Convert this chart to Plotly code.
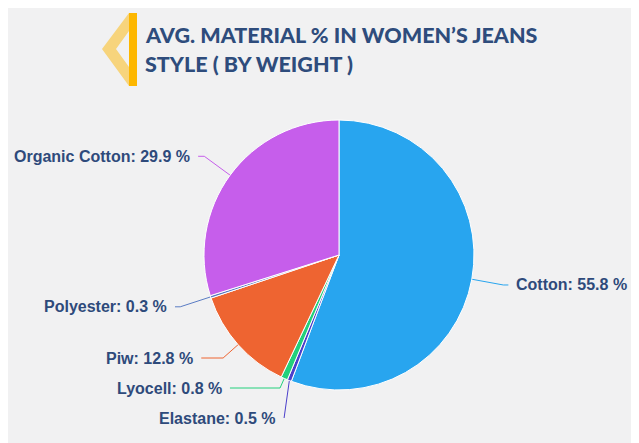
import math
import plotly.graph_objects as go

# data
materials = ["Cotton", "Elastane", "Lyocell", "Piw", "Polyester", "Organic Cotton"]
shares = [55.8, 0.5, 0.8, 12.8, 0.3, 29.9]
colors = ["#28A5EF", "#4B3FCB", "#22D07C", "#EE6431", "#5A7CC4", "#C65EEB"]
title_lines = ["AVG. MATERIAL % IN WOMEN\u2019S JEANS", "STYLE ( BY WEIGHT )"]

W, H = 639, 443
off = 8  # page body margin
FW, FH = W - off, H - off
cx, cy, r = 339, 255, 135
len1, len2, gap = 32, 5, 6
label_font = dict(family="Liberation Sans, Arial", size=16, color="#2E4A7B", weight="bold")

fig = go.Figure()

fig.add_trace(
    go.Pie(
        labels=materials,
        values=shares,
        sort=False,
        direction="clockwise",
        rotation=0,
        marker=dict(colors=colors, line=dict(color="white", width=1)),
        textinfo="none",
        hoverinfo="label+value",
        showlegend=False,
        domain=dict(
            x=[(cx - r - off) / FW, (cx + r - off) / FW],
            y=[1 - (cy + r - off) / FH, 1 - (cy - r - off) / FH],
        ),
    )
)

# leader lines + labels, echarts style
total = sum(shares)
acc = 0
items = []
for name, v, c in zip(materials, shares, colors):
    mid = (acc + v / 2) / total * 2 * math.pi
    acc += v
    dx, dy = math.sin(mid), -math.cos(mid)
    ex, ey = cx + r * dx, cy + r * dy
    items.append(dict(name=name, v=v, c=c, dx=dx, dy=dy, ex=ex, ey=ey,
                      y=ey + dy * len1, left=dx < 0))

# push overlapping labels apart on each side
min_gap, y_max = 30, H - 25
for side in (True, False):
    grp = sorted([it for it in items if it["left"] == side], key=lambda it: it["y"])
    for i in range(1, len(grp)):
        grp[i]["y"] = max(grp[i]["y"], grp[i - 1]["y"] + min_gap)
    if grp and grp[-1]["y"] > y_max:
        grp[-1]["y"] = y_max
        for i in range(len(grp) - 2, -1, -1):
            grp[i]["y"] = min(grp[i]["y"], grp[i + 1]["y"] - min_gap)

R = r + len1 + len2
for it in items:
    sgn = -1 if it["left"] else 1
    ly = it["y"]
    endx = cx + sgn * math.sqrt(max(R ** 2 - (ly - cy) ** 2, 0))
    t = (ly - it["ey"]) / it["dy"] if abs(it["dy"]) > 1e-6 else len1
    t = max(t, 0)
    bx = it["ex"] + it["dx"] * t
    if (it["left"] and bx < endx) or (not it["left"] and bx > endx):
        xs, ys = [it["ex"], endx], [it["ey"], ly]
    else:
        xs, ys = [it["ex"], bx, endx], [it["ey"], ly, ly]
    fig.add_trace(
        go.Scatter(x=xs, y=ys, mode="lines", line=dict(color=it["c"], width=1),
                   hoverinfo="skip", showlegend=False)
    )
    fig.add_annotation(
        x=endx + sgn * gap, y=ly, xref="x", yref="y",
        text=f"{it['name']}: {it['v']} %",
        showarrow=False,
        xanchor="right" if it["left"] else "left",
        yanchor="middle",
        font=label_font,
    )

# title
for i, line in enumerate(title_lines):
    fig.add_annotation(
        x=143, y=35 + i * 29, xref="x", yref="y",
        text=line, showarrow=False, xanchor="left", yanchor="middle",
        font=dict(family="Lato, Open Sans, sans-serif", size=21.5, color="#2E4C7C", weight=900),
    )

# yellow chevron + bar
fig.add_shape(type="path", xref="x", yref="y",
              path="M 129,13 L 102,49 L 129,86 L 129,67 L 116,49 L 129,31 Z",
              fillcolor="#F7D47C", line_width=0, layer="below")
fig.add_shape(type="rect", xref="x", yref="y", x0=129, x1=137, y0=13, y1=86,
              fillcolor="#FDB700", line_width=0, layer="below")

fig.update_xaxes(range=[off, W], visible=False, fixedrange=True)
fig.update_yaxes(range=[H, off], visible=False, fixedrange=True)
fig.update_layout(
    width=FW,
    height=FH,
    margin=dict(l=0, r=0, t=0, b=0),
    paper_bgcolor="#F1F1F2",
    plot_bgcolor="#F1F1F2",
)

fig.write_html("out.html")
